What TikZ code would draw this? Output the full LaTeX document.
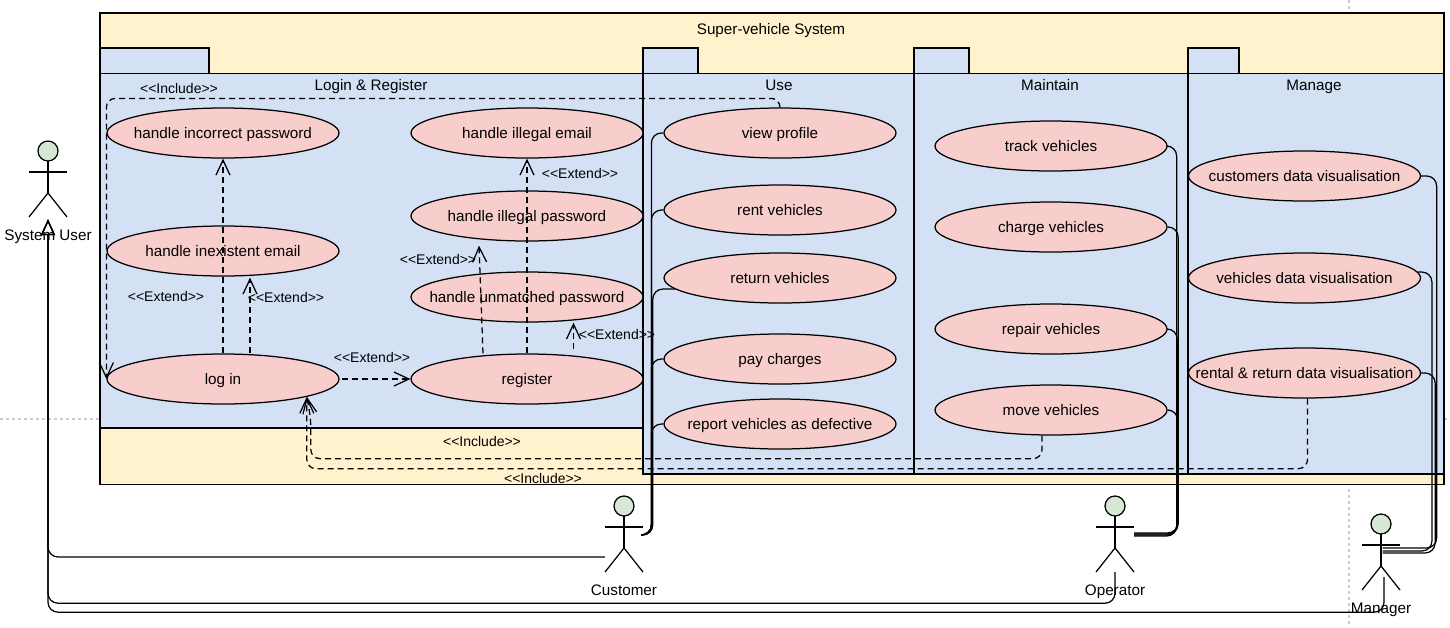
\documentclass[tikz,border=0pt]{standalone}
\usepackage{fontspec}
\setmainfont{Liberation Sans}
\usetikzlibrary{arrows.meta,shapes.geometric}
\definecolor{frameyellow}{HTML}{FFF2CC}
\definecolor{packblue}{HTML}{D4E1F5}
\definecolor{casepink}{HTML}{F8CECC}
\definecolor{headgreen}{HTML}{D5E8D4}
\definecolor{guidegray}{HTML}{CCCCCC}
\tikzset{
  box/.style={draw, line width=1.3pt},
  usecase/.style={ellipse, draw, line width=1.25pt, fill=casepink, inner sep=0pt,
    minimum width=232pt, minimum height=50pt, text height=14pt, text depth=3pt,
    font=\fontsize{15.25}{18}\selectfont},
  title/.style={inner sep=0pt, text height=14pt, text depth=3pt, font=\fontsize{15.25}{18}\selectfont},
  tag/.style={inner sep=0pt, text height=12pt, text depth=3pt, font=\fontsize{14}{16}\selectfont},
  actorbox/.style={inner sep=0pt, minimum width=38pt, minimum height=78pt},
  assoc/.style={line width=1.25pt, rounded corners=10pt},
  general/.style={assoc, -{Triangle[open, length=16pt, width=14pt]}},
  depend/.style={line width=1.25pt, rounded corners=9pt, dash pattern=on 6pt off 4pt,
    -{Straight Barb[length=15pt, width=14pt]}},
}
\begin{document}
\begin{tikzpicture}[x=1pt, y=-1pt]
  \useasboundingbox (0, 0) rectangle (1450, 627);

  % page guides
  \draw [guidegray, line width=1.25pt, dashed] (0, 419) -- (100, 419);
  \draw [guidegray, line width=1.25pt, dashed] (1444, 419) -- (1450, 419);
  \draw [guidegray, line width=1.25pt, dashed] (1349, 0) -- (1349, 13);
  \draw [guidegray, line width=1.25pt, dashed] (1349, 489) -- (1349, 627);

  % system frame and packages
  \draw [box, fill=frameyellow] (100, 13) rectangle (1444, 484.5);
  \foreach \a/\b in {100/209, 643/698, 914/969, 1188/1239}
    \draw [box, fill=packblue] (\a, 48) rectangle (\b, 73.5);
  \draw [box, fill=packblue] (100, 73.5) rectangle (643, 428);
  \draw [box, fill=packblue] (643, 73.5) rectangle (914, 474);
  \draw [box, fill=packblue] (914, 73.5) rectangle (1188, 474);
  \draw [box, fill=packblue] (1188, 73.5) rectangle (1444, 474);

  \node [title] (system) at (771, 29) {Super-vehicle System};
  \node [title] (loginpack) at (371, 85) {Login \& Register};
  \node [title] (usepack) at (779, 85) {Use};
  \node [title] (maintainpack) at (1050, 85) {Maintain};
  \node [title] (managepack) at (1314, 85) {Manage};

  % use cases
  \foreach \nm/\x/\y/\txt in {
    incorrect/223/133/handle incorrect password,
    inexistent/223/251/handle inexistent email,
    login/223/379/log in,
    illemail/527/133/handle illegal email,
    illpass/527/216/handle illegal password,
    unmatched/527/297/handle unmatched password,
    register/527/379/register,
    profile/780/133/view profile,
    rent/780/210/rent vehicles,
    return/780/278/return vehicles,
    pay/780/359/pay charges,
    report/780/424/report vehicles as defective,
    track/1051/146/track vehicles,
    charge/1051/227/charge vehicles,
    repair/1051/329/repair vehicles,
    move/1051/410/move vehicles,
    custdata/1304.5/176/customers data visualisation,
    vehdata/1304.5/278/vehicles data visualisation,
    rentdata/1304.5/373/rental \& return data visualisation}
    \node [usecase] (\nm) at (\x, \y) {\makebox[0pt]{\txt}};

  % actors
  \foreach \nm/\x/\y/\txt in {
    sysuser/48/180/System User,
    customer/624/535/Customer,
    operator/1115/535/Operator,
    manager/1381/553/Manager} {
    \node [actorbox] (\nm) at (\x, \y) {};
    \draw [line width=1.25pt, fill=headgreen] (\x, \y-29) circle (10);
    \draw [line width=1.25pt] (\x, \y-19) -- (\x, \y+13);
    \draw [line width=1.25pt] (\x-19, \y-8) -- (\x+19, \y-8);
    \draw [line width=1.25pt] (\x-19, \y+37) -- (\x, \y+13) -- (\x+19, \y+37);
    \node [title] (\nm-text) at (\x, \y+55) {\txt};
  }

  % generalisations
  \draw [general] ([yshift=-22pt]customer.west) -| (sysuser.south);
  \draw [general] ([yshift=2pt]operator.south) -- ++(0, 31) -| (sysuser.south);
  \draw [general] ([xshift=3pt, yshift=15pt]manager.south) -- ++(0, 35) -| (sysuser.south);

  % actor to use case
  \foreach \nm/\a in {profile/-12, rent/-12, pay/-12, report/-12}
    \draw [assoc] (\nm.west) -- ++(\a, 0) |- (customer.east);
  \draw [assoc] (return.186) -- ++(-22, 0) |- (customer.east);
  \foreach \nm/\a/\b in {track/9/-1, charge/10.5/1, repair/9.5/0, move/10/2}
    \draw [assoc] (\nm.east) -- ++(\a, 0) |- ([yshift=\b pt]operator.east);
  \foreach \nm/\a/\b in {custdata/15.5/5, rentdata/14/0}
    \draw [assoc] (\nm.east) -- ++(\a, 0) |- ([xshift=-17.5pt, yshift=\b pt]manager.east);
  \draw [assoc] (vehdata.3) -- ++(14, 0) |- ([xshift=-17.5pt, yshift=2pt]manager.east);

  % extend and include
  \draw [depend] (login.east) ++(2, 0) -- (register.west);
  \draw [depend] (login.north) -- (incorrect.south);
  \draw [depend] ([xshift=27pt]login.north) -- ([xshift=27pt, yshift=-1pt]inexistent.south);
  \draw [depend] (register.north) -- (illemail.south);
  \draw [depend] ([xshift=-44pt]register.north) -- ([xshift=-48pt, yshift=-4pt]illpass.south);
  \draw [depend] ([xshift=46.5pt, yshift=4pt]register.north) -- ([xshift=46.5pt]unmatched.south);
  \draw [depend] (profile.north) -- ++(0, -9) -| (login.west);
  \draw [depend] ([xshift=-9pt]move.south) -- ++(0, 23) -| ([xshift=4pt, yshift=-22pt]login.-12) -- (login.-12);
  \draw [depend] ([xshift=3pt]rentdata.south) -- ++(0, 70) -| (login.-12);

  \foreach \nm/\x/\y in {ext1/166/297, ext2/286/298, ext3/372/358, ext4/438/260, ext5/580/174, ext6/617/335}
    \node [tag] (\nm) at (\x, \y) {<{}<Extend>{}>};
  \foreach \nm/\x/\y in {inc1/179/89, inc2/482/442, inc3/543/479}
    \node [tag] (\nm) at (\x, \y) {<{}<Include>{}>};
\end{tikzpicture}
\end{document}
